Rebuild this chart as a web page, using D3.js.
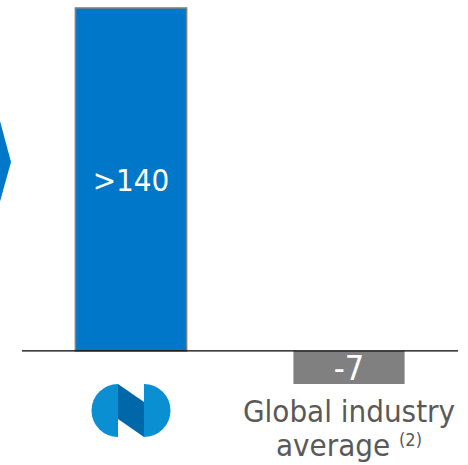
<!DOCTYPE html>
<html>
<head>
<meta charset="utf-8">
<script src="https://cdn.jsdelivr.net/npm/d3@7"></script>
<style>
  body { margin: 0; background: #fff; }
  svg { display: block; }
</style>
</head>
<body>
<div id="chart"></div>
<script>
// chart data
const categories = ["company", "industry"];
const values = [140, -7];
const valueLabels = [">140", "-7"];
const categoryLines = [null, ["Global industry", "average"]];
const footnote = "(2)";

const width = 468, height = 465;

const svg = d3.select("#chart")
    .append("svg")
    .attr("width", width)
    .attr("height", height);

// x: two bands across the baseline
const x = d3.scaleBand()
    .domain(categories)
    .range([22, 458])
    .paddingInner(0.49)
    .paddingOuter(0.245);

// y: compressed scale (the bars are not to scale in the original)
const y = d3.scalePow()
    .exponent(0.78)
    .domain([-7, 140])
    .range([384, 8]);

const colors = ["#0077c8", "#808080"];

// left chevron, partly off the canvas
svg.append("path")
    .attr("d", "M-40,106 L-4,106 L11,162 L-4,216 L-40,216 Z")
    .attr("fill", "#0077c8");

// bars
svg.selectAll("rect.bar")
    .data(values)
    .join("rect")
    .attr("class", "bar")
    .attr("x", (d, i) => x(categories[i]))
    .attr("width", x.bandwidth())
    .attr("y", d => y(Math.max(0, d)))
    .attr("height", d => Math.abs(y(d) - y(0)))
    .attr("fill", (d, i) => colors[i])
    .attr("stroke", (d, i) => i === 0 ? "#808080" : "none")
    .attr("stroke-width", 1.6);

// baseline
svg.append("line")
    .attr("x1", 22).attr("x2", 458)
    .attr("y1", y(0)).attr("y2", y(0))
    .attr("stroke", "#000")
    .attr("stroke-width", 1.2);

// value labels inside the bars
const fontSizes = [31, 34];
svg.selectAll("text.val")
    .data(values)
    .join("text")
    .attr("class", "val")
    .attr("x", (d, i) => x(categories[i]) + x.bandwidth() / 2)
    .attr("y", d => (y(d) + y(0)) / 2)
    .attr("dy", "0.36em")
    .attr("text-anchor", "middle")
    .attr("fill", "#fff")
    .style("font-family", "'DejaVu Sans Condensed', 'DejaVu Sans', sans-serif")
    .style("font-size", (d, i) => fontSizes[i] + "px")
    .text((d, i) => valueLabels[i]);

// company logo under the first bar
const cx = x(categories[0]) + x.bandwidth() / 2;
const logo = svg.append("g").attr("transform", `translate(${cx},410.5)`);
const r = 26.5, half = 13;
logo.append("path")
    .attr("d", `M${-half},${-r} A${r},${r} 0 0 0 ${-half},${r} Z`)
    .attr("fill", "#0a8fd3");
logo.append("path")
    .attr("d", `M${half},${-r} A${r},${r} 0 0 1 ${half},${r} Z`)
    .attr("fill", "#0a8fd3");
logo.append("path")
    .attr("d", `M${-half},${-r} L${half},${-r + 18} L${half},${r} L${-half},${r - 18} Z`)
    .attr("fill", "#0068a8");

// second category label, two lines
const lx = x(categories[1]) + x.bandwidth() / 2;
const labelFont = "'DejaVu Sans Condensed', 'DejaVu Sans', sans-serif";
svg.append("text")
    .attr("x", lx).attr("y", 422)
    .attr("text-anchor", "middle")
    .attr("fill", "#595959")
    .style("font-family", labelFont)
    .style("font-size", "31px")
    .text(categoryLines[1][0]);
const line2 = svg.append("text")
    .attr("x", lx).attr("y", 456)
    .attr("text-anchor", "middle")
    .attr("fill", "#595959")
    .style("font-family", labelFont)
    .style("font-size", "31px");
line2.append("tspan").text(categoryLines[1][1] + " ");
line2.append("tspan")
    .attr("dy", -10.5)
    .style("font-size", "18px")
    .text(footnote);
</script>
</body>
</html>
